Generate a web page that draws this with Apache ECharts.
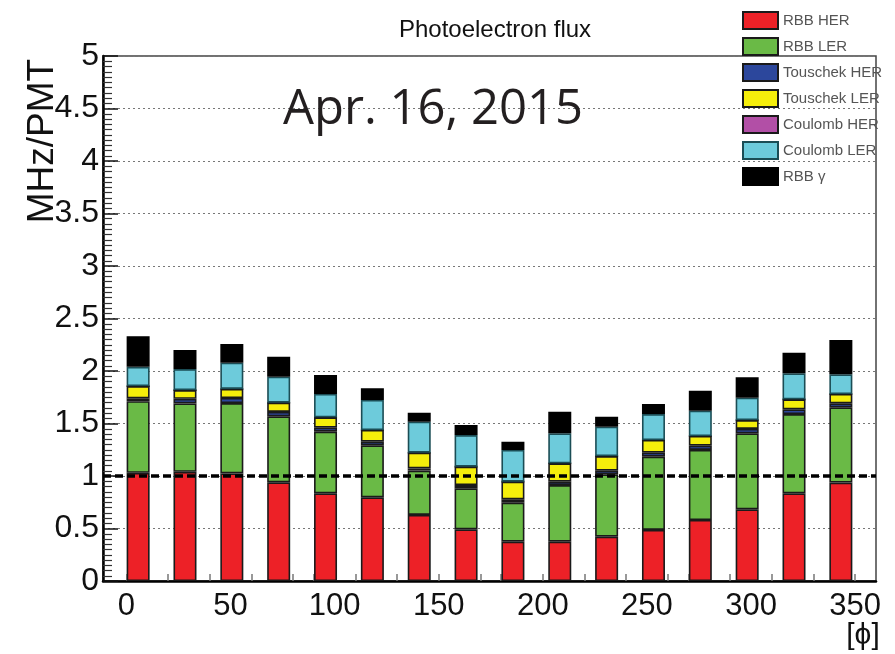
<!DOCTYPE html>
<html>
<head>
<meta charset="utf-8">
<script src="https://cdn.jsdelivr.net/npm/echarts@6/dist/echarts.min.js"></script>
<style>
html,body{margin:0;padding:0;background:#fff;}
#chart{width:895px;height:654px;}
</style>
</head>
<body>
<div id="chart"></div>
<script>
// Histogram bin centres (phi, degrees), 11.25 deg bins
const phiBins = [-5.6, 5.6, 16.9, 28.1, 39.4, 50.6, 61.9, 73.1, 84.4, 95.6, 106.9, 118.1, 129.4, 140.6, 151.9, 163.1, 174.4, 185.6, 196.9, 208.1, 219.4, 230.6, 241.9, 253.1, 264.4, 275.6, 286.9, 298.1, 309.4, 320.6, 331.9, 343.1, 354.4];
// Bins that carry a bar (phi, degrees)
const phi = [5.6, 28.1, 50.6, 73.1, 95.6, 118.1, 140.6, 163.1, 185.6, 208.1, 230.6, 253.1, 275.6, 298.1, 320.6, 343.1];
// Stacked components (MHz/PMT)
const rbbHer      = [1.03, 1.04, 1.025, 0.94, 0.835, 0.797, 0.629, 0.492, 0.375, 0.375, 0.422, 0.486, 0.581, 0.683, 0.835, 0.937];
const rbbLer      = [0.683, 0.651, 0.67, 0.628, 0.587, 0.495, 0.422, 0.391, 0.371, 0.539, 0.594, 0.698, 0.667, 0.723, 0.755, 0.717];
const touschekHer = [0.026, 0.044, 0.048, 0.042, 0.038, 0.035, 0.022, 0.031, 0.032, 0.032, 0.035, 0.038, 0.041, 0.042, 0.045, 0.038];
const touschekLer = [0.117, 0.083, 0.086, 0.088, 0.099, 0.111, 0.149, 0.175, 0.168, 0.175, 0.139, 0.121, 0.092, 0.085, 0.095, 0.089];
const coulombHer  = [0, 0, 0, 0, 0, 0, 0, 0, 0, 0, 0, 0, 0, 0, 0, 0];
const coulombLer  = [0.184, 0.2, 0.25, 0.248, 0.222, 0.286, 0.295, 0.301, 0.302, 0.285, 0.28, 0.247, 0.241, 0.213, 0.248, 0.187];
const rbbGamma    = [0.292, 0.181, 0.178, 0.19, 0.181, 0.111, 0.086, 0.096, 0.079, 0.207, 0.095, 0.096, 0.191, 0.194, 0.197, 0.327];

const seriesNames = ['RBB HER', 'RBB LER', 'Touschek HER', 'Touschek LER', 'Coulomb HER', 'Coulomb LER', 'RBB γ'];
const seriesColors = ['#ed2127', '#6aba46', '#2c479c', '#f5ee0b', '#b24fa6', '#6dcbdb', '#000000'];
const seriesBorders = ['#1a1a1a', '#1a1a1a', '#1a1a1a', '#1a1a1a', '#1a1a1a', '#1b4d55', '#000000'];
const seriesValues = [rbbHer, rbbLer, touschekHer, touschekLer, coulombHer, coulombLer, rbbGamma];

const xTickLabels = [0, 50, 100, 150, 200, 250, 300, 350];
const xMinorTicks = [0, 10, 20, 30, 40, 50, 60, 70, 80, 90, 100, 110, 120, 130, 140, 150, 160, 170, 180, 190, 200, 210, 220, 230, 240, 250, 260, 270, 280, 290, 300, 310, 320, 330, 340, 350];
const refLevel = 1;

const chart = echarts.init(document.getElementById('chart'));
const font = "'Liberation Sans', Arial, sans-serif";

function binned(values) {
  const out = phiBins.map(() => null);
  phi.forEach((p, k) => {
    const idx = phiBins.indexOf(p);
    out[idx] = values[k];
  });
  return out;
}

const series = seriesNames.map((name, i) => {
  const s = {
    name: name,
    type: 'bar',
    stack: 'flux',
    xAxisIndex: 1,
    barWidth: 23,
    data: binned(seriesValues[i]),
    itemStyle: { color: seriesColors[i], borderColor: seriesBorders[i], borderWidth: 1.6 },
    emphasis: { disabled: true },
    z: 3
  };
  if (i === 0) {
    s.markLine = {
      silent: true,
      symbol: ['none', 'none'],
      label: { show: false },
      z: 20,
      lineStyle: { color: '#000', width: 3.5, type: [8, 4] },
      data: [{ yAxis: refLevel }]
    };
  }
  return s;
});

chart.setOption({
  animation: false,
  backgroundColor: '#fff',
  grid: { left: 103, right: 19, top: 56, bottom: 73, show: true, borderColor: '#444', borderWidth: 1.5, backgroundColor: 'transparent' },
  title: {
    text: 'Photoelectron flux',
    left: 490, top: 13, textAlign: 'center',
    textStyle: { fontFamily: font, fontSize: 24, fontWeight: 'normal', color: '#111' }
  },
  legend: {
    orient: 'vertical',
    left: 737, top: 6,
    itemWidth: 35, itemHeight: 17, itemGap: 7,
    icon: 'rect',
    textStyle: { fontFamily: font, fontSize: 15, color: '#555', padding: [0, 0, 0, 0] },
    data: seriesNames
  },
  xAxis: [{
    type: 'value',
    min: -11.25, max: 360,
    axisLine: { show: true, onZero: false, lineStyle: { color: '#000', width: 2.5 } },
    axisTick: { show: true, inside: true, length: 7, customValues: xMinorTicks, lineStyle: { color: '#777', width: 1.5 } },
    axisLabel: { show: true, customValues: xTickLabels, margin: 10, fontFamily: font, fontSize: 31, color: '#111' },
    splitLine: { show: false }
  }, {
    type: 'category',
    data: phiBins,
    show: false,
    boundaryGap: true
  }],
  yAxis: {
    type: 'value',
    min: 0, max: 5, interval: 0.5,
    axisLine: { show: true, onZero: false, lineStyle: { color: '#000', width: 2.5 } },
    axisTick: { show: true, inside: true, length: 15, lineStyle: { color: '#111', width: 1.5 } },
    minorTick: { show: true, splitNumber: 10, length: 9, lineStyle: { color: '#333', width: 1.2 } },
    axisLabel: { fontFamily: font, fontSize: 32, color: '#111', margin: 4 },
    splitLine: { show: true, lineStyle: { color: '#777', width: 1.2, type: [2, 3] } }
  },
  graphic: [
    { type: 'text', left: 283, top: 86, style: { text: 'Apr. 16, 2015', font: "49px 'Open Sans', 'Noto Sans', sans-serif", fill: '#231f20' }, z: 50 },
    { type: 'text', x: 43, y: 141, rotation: Math.PI / 2, style: { text: 'MHz/PMT', font: "37px 'Liberation Sans', Arial, sans-serif", fill: '#111', align: 'center', verticalAlign: 'middle' }, z: 50 },
    { type: 'text', x: 863, y: 636, style: { text: '[ϕ]', font: "30px 'Liberation Sans', Arial, sans-serif", fill: '#111', align: 'center', verticalAlign: 'middle' }, z: 50 }
  ],
  series: series
});
</script>
</body>
</html>
